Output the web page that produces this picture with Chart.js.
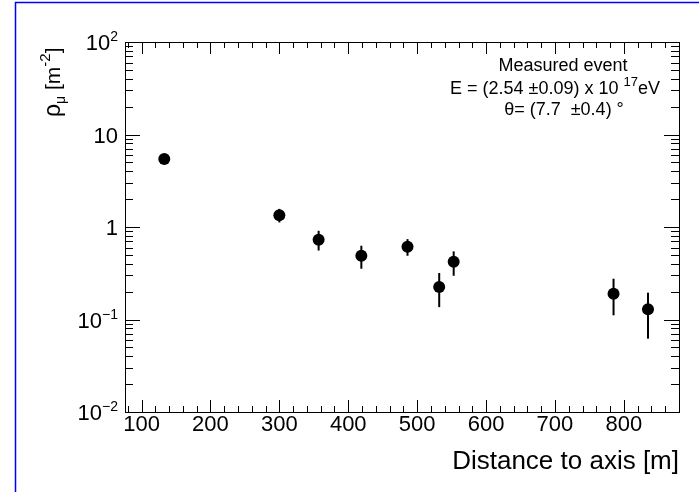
<!DOCTYPE html>
<html>
<head>
<meta charset="utf-8">
<script src="https://cdn.jsdelivr.net/npm/chart.js@4.4.0/dist/chart.umd.min.js"></script>
<style>
  html, body { margin: 0; padding: 0; background: #fff; }
  #wrap { position: relative; width: 699px; height: 492px; }
</style>
</head>
<body>
<div id="wrap"><canvas id="muonChart" width="699" height="492"></canvas></div>
<script>
// measured muon density vs distance to shower axis
const distances = [133, 300, 357, 419, 486, 532, 553, 785, 835];
const density   = [5.45, 1.34, 0.73, 0.49, 0.61, 0.224, 0.42, 0.19, 0.129];
const densLow   = [5.0, 1.12, 0.557, 0.354, 0.489, 0.136, 0.297, 0.111, 0.062];
const densHigh  = [5.9, 1.57, 0.91, 0.627, 0.74, 0.318, 0.545, 0.276, 0.195];

const xTicks = [100, 200, 300, 400, 500, 600, 700, 800];
const yTicks = [0.01, 0.1, 1, 10, 100];
// base text and exponent for each y tick label
const yTickBase = ['10', '10', '1', '10', '10'];
const yTickExp  = ['\u22122', '\u22121', '', '', '2'];

const FONT = "'Liberation Sans', Arial, Helvetica, sans-serif";

// draw a run of text pieces (for sub/superscripts)
function drawRich(ctx, parts, x, y, align) {
    let total = 0;
    parts.forEach(p => {
        ctx.font = p.size + 'px ' + FONT;
        p.w = ctx.measureText(p.t).width;
        total += p.w;
    });
    let cx = align === 'center' ? x - total / 2 : (align === 'right' ? x - total : x);
    ctx.textAlign = 'left';
    ctx.textBaseline = 'alphabetic';
    parts.forEach(p => {
        ctx.font = p.size + 'px ' + FONT;
        ctx.fillText(p.t, cx, y + (p.dy || 0));
        cx += p.w;
    });
}

const paperPlugin = {
    id: 'paper',
    beforeDraw(chart) {
        const ctx = chart.ctx;
        ctx.save();
        ctx.fillStyle = '#fff';
        ctx.fillRect(0, 0, chart.width, chart.height);
        ctx.strokeStyle = '#0000ff';
        ctx.lineWidth = 1.5;
        ctx.beginPath();
        ctx.moveTo(15.5, chart.height);
        ctx.lineTo(15.5, 2.5);
        ctx.lineTo(chart.width, 2.5);
        ctx.stroke();
        ctx.restore();
    }
};

const errorBarPlugin = {
    id: 'errorBars',
    beforeDatasetsDraw(chart) {
        const ctx = chart.ctx;
        const xs = chart.scales.x, ys = chart.scales.y;
        ctx.save();
        ctx.strokeStyle = '#000';
        ctx.lineWidth = 2;
        distances.forEach((d, i) => {
            const px = xs.getPixelForValue(d);
            ctx.beginPath();
            ctx.moveTo(px, ys.getPixelForValue(densLow[i]));
            ctx.lineTo(px, ys.getPixelForValue(densHigh[i]));
            ctx.stroke();
        });
        ctx.restore();
    }
};

const frameTicksPlugin = {
    id: 'frameTicks',
    afterDraw(chart) {
        const ctx = chart.ctx;
        const a = chart.chartArea;
        const xs = chart.scales.x, ys = chart.scales.y;
        ctx.save();
        ctx.strokeStyle = '#000';
        ctx.lineWidth = 1;
        ctx.strokeRect(Math.round(a.left) + 0.5, Math.round(a.top) + 0.5,
                       Math.round(a.right - a.left), Math.round(a.bottom - a.top));
        ctx.beginPath();
        // x ticks, bottom and top
        for (let v = 80; v <= 880; v += 20) {
            const px = Math.round(xs.getPixelForValue(v)) + 0.5;
            const len = v % 100 === 0 ? 12 : 6;
            ctx.moveTo(px, a.bottom); ctx.lineTo(px, a.bottom - len);
            ctx.moveTo(px, a.top); ctx.lineTo(px, a.top + len);
        }
        // y ticks, left and right
        for (let e = -2; e < 2; e++) {
            for (let k = 1; k <= 10; k++) {
                const v = k * Math.pow(10, e);
                const py = Math.round(ys.getPixelForValue(v)) + 0.5;
                const len = (k === 1 || k === 10) ? 15 : 8;
                ctx.moveTo(a.left, py); ctx.lineTo(a.left + len, py);
                ctx.moveTo(a.right, py); ctx.lineTo(a.right - len, py);
            }
        }
        ctx.stroke();

        ctx.fillStyle = '#000';
        // y tick labels with exponents
        yTicks.forEach((v, i) => {
            const py = ys.getPixelForValue(v);
            const parts = [{ t: yTickBase[i], size: 22 }];
            if (yTickExp[i]) parts.push({ t: yTickExp[i], size: 14, dy: -9 });
            drawRich(ctx, parts, a.left - 7, py + 8, 'right');
        });

        // y axis title, rotated
        ctx.save();
        ctx.translate(60, 117);
        ctx.rotate(-Math.PI / 2);
        drawRich(ctx, [
            { t: '\u03C1', size: 23 },
            { t: '\u03BC', size: 14, dy: 5 },
            { t: ' [m', size: 21 },
            { t: '-2', size: 15, dy: -10 },
            { t: ']', size: 21 }
        ], 0, 0, 'left');
        ctx.restore();

        // event info
        const cx = a.left + 437;
        drawRich(ctx, [{ t: 'Measured event', size: 18 }], cx + 1, 71, 'center');
        drawRich(ctx, [
            { t: 'E = (2.54 \u00B10.09) x 10 ', size: 18 },
            { t: '17', size: 13, dy: -8 },
            { t: 'eV', size: 18 }
        ], cx - 7, 94, 'center');
        drawRich(ctx, [
            { t: '\u03B8= (7.7  \u00B10.4) \u00B0', size: 18 }
        ], cx + 2, 115, 'center');
        ctx.restore();
    }
};

const ctx = document.getElementById('muonChart').getContext('2d');
new Chart(ctx, {
    type: 'scatter',
    data: {
        datasets: [{
            data: distances.map((d, i) => ({ x: d, y: density[i] })),
            backgroundColor: '#000',
            borderColor: '#000',
            borderWidth: 0,
            pointRadius: 6,
            pointHoverRadius: 6
        }]
    },
    options: {
        responsive: false,
        animation: false,
        layout: { padding: { top: 42, right: 20, left: 0, bottom: 0 } },
        plugins: {
            legend: { display: false },
            tooltip: { enabled: false }
        },
        scales: {
            x: {
                type: 'linear',
                min: 76,
                max: 880,
                afterBuildTicks: s => { s.ticks = xTicks.map(v => ({ value: v })); },
                afterFit: s => { s.height = 80; },
                grid: { display: false, drawTicks: false },
                border: { display: false },
                ticks: {
                    color: '#000',
                    font: { family: FONT, size: 22 },
                    padding: 0,
                    maxRotation: 0,
                    autoSkip: false
                },
                title: {
                    display: true,
                    text: 'Distance to axis [m]',
                    align: 'end',
                    color: '#000',
                    font: { family: FONT, size: 26 },
                    padding: { top: 0, bottom: 15 }
                }
            },
            y: {
                type: 'logarithmic',
                min: 0.01,
                max: 100,
                afterBuildTicks: s => { s.ticks = yTicks.map(v => ({ value: v })); },
                afterFit: s => { s.width = 125; },
                grid: { display: false, drawTicks: false },
                border: { display: false },
                ticks: { display: false }
            }
        }
    },
    plugins: [paperPlugin, errorBarPlugin, frameTicksPlugin]
});
</script>
</body>
</html>
